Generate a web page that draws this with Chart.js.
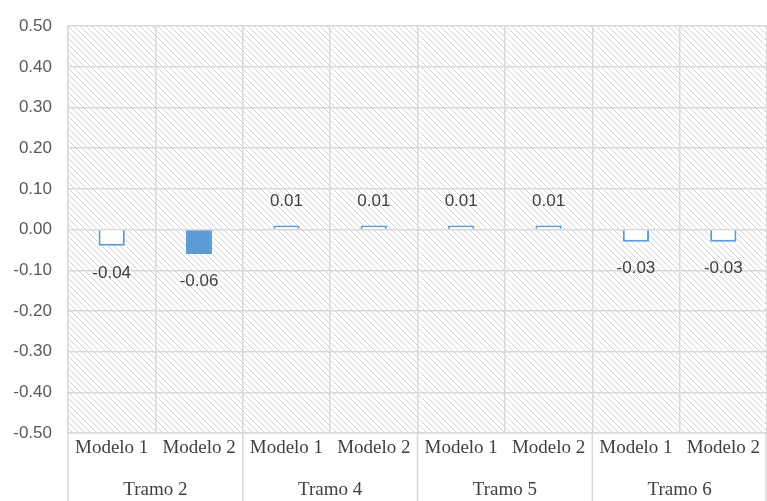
<!DOCTYPE html>
<html>
<head>
<meta charset="utf-8">
<script src="https://cdn.jsdelivr.net/npm/chart.js@4/dist/chart.umd.min.js"></script>
<style>
  html, body { margin: 0; padding: 0; background: #fff; }
  canvas { display: block; }
</style>
</head>
<body>
<canvas id="c" width="767" height="501"></canvas>
<script>
// Model labels (inner level) and section labels (outer level, two models each)
const modelLabels = ['Modelo 1', 'Modelo 2', 'Modelo 1', 'Modelo 2', 'Modelo 1', 'Modelo 2', 'Modelo 1', 'Modelo 2'];
const tramoLabels = ['Tramo 2', 'Tramo 4', 'Tramo 5', 'Tramo 6'];
const diffValues = [-0.04, -0.06, 0.01, 0.01, 0.01, 0.01, -0.03, -0.03];
const yMin = -0.5;
const yMax = 0.5;
const yStep = 0.1;

const BLUE = '#5B9BD5';
const GRID = '#d9d9d9';
const TEXT = '#404040';

// Diagonal hatch tile for the plot background
function makeHatch() {
  const s = 6;
  const tile = document.createElement('canvas');
  tile.width = s; tile.height = s;
  const t = tile.getContext('2d');
  t.fillStyle = '#fff';
  t.fillRect(0, 0, s, s);
  t.strokeStyle = '#d2d2d2';
  t.lineWidth = 1;
  t.beginPath();
  for (const k of [-s, 0, s]) {
    t.moveTo(k, 0);
    t.lineTo(k + s, s);
  }
  t.stroke();
  return tile;
}

const hatchBackground = {
  id: 'hatchBackground',
  beforeDraw(chart) {
    const { ctx, chartArea: a } = chart;
    ctx.save();
    ctx.fillStyle = ctx.createPattern(makeHatch(), 'repeat');
    ctx.fillRect(a.left, a.top, a.right - a.left, a.bottom - a.top);
    ctx.restore();
  }
};

// Value labels outside the end of each bar
const valueLabels = {
  id: 'valueLabels',
  afterDatasetsDraw(chart) {
    const { ctx } = chart;
    const meta = chart.getDatasetMeta(0);
    const data = chart.data.datasets[0].data;
    ctx.save();
    ctx.font = '17px "Liberation Sans", Arial, sans-serif';
    ctx.fillStyle = TEXT;
    ctx.textAlign = 'center';
    ctx.textBaseline = 'middle';
    meta.data.forEach((el, i) => {
      const v = data[i];
      const y = v >= 0 ? el.y - 24 : el.y + 27;
      ctx.fillText(v.toFixed(2), el.x, y);
    });
    ctx.restore();
  }
};

// Outer category level: separators and section names below the model labels
const groupAxis = {
  id: 'groupAxis',
  afterDraw(chart) {
    const { ctx, chartArea: a } = chart;
    const xs = chart.scales.x;
    const n = chart.data.labels.length;
    const per = n / tramoLabels.length;
    const w = (xs.right - xs.left) / n;
    ctx.save();
    ctx.strokeStyle = GRID;
    ctx.lineWidth = 1.5;
    ctx.beginPath();
    for (let g = 0; g <= tramoLabels.length; g++) {
      const x = Math.min(xs.left + g * per * w, chart.width - 1);
      ctx.moveTo(x, a.bottom);
      ctx.lineTo(x, chart.height);
    }
    ctx.stroke();
    ctx.font = '19px "Liberation Serif", "Times New Roman", serif';
    ctx.fillStyle = TEXT;
    ctx.textAlign = 'center';
    ctx.textBaseline = 'middle';
    tramoLabels.forEach((lab, g) => {
      const cx = xs.left + (g * per + per / 2) * w;
      ctx.fillText(lab, cx, 490);
    });
    ctx.restore();
  }
};

new Chart(document.getElementById('c'), {
  type: 'bar',
  data: {
    labels: modelLabels,
    datasets: [{
      data: diffValues,
      backgroundColor: (c) => (c.dataIndex === 1 ? BLUE : '#ffffff'),
      borderColor: BLUE,
      borderWidth: 2,
      barPercentage: 0.3,
      categoryPercentage: 1.0
    }]
  },
  options: {
    responsive: false,
    devicePixelRatio: 1,
    animation: false,
    layout: { padding: { top: 23, right: 0, left: 0, bottom: 0 } },
    plugins: { legend: { display: false }, tooltip: { enabled: false } },
    scales: {
      x: {
        offset: true,
        grid: { offset: true, color: GRID, lineWidth: 1.5, drawTicks: false },
        border: { display: true, color: GRID, width: 1.5 },
        ticks: {
          color: TEXT,
          padding: 4,
          maxRotation: 0,
          autoSkip: false,
          font: { family: '"Liberation Serif", "Times New Roman", serif', size: 19 }
        },
        afterFit(scale) { scale.height = 68; }
      },
      y: {
        min: yMin,
        max: yMax,
        grid: { color: GRID, lineWidth: 1.5, drawTicks: false },
        border: { display: true, color: GRID, width: 1.5 },
        ticks: {
          stepSize: yStep,
          color: '#595959',
          padding: 16,
          font: { family: '"Liberation Sans", Arial, sans-serif', size: 17 },
          callback: (v) => Number(v).toFixed(2)
        },
        afterFit(scale) { scale.width = 68; }
      }
    }
  },
  plugins: [hatchBackground, valueLabels, groupAxis]
});
</script>
</body>
</html>
